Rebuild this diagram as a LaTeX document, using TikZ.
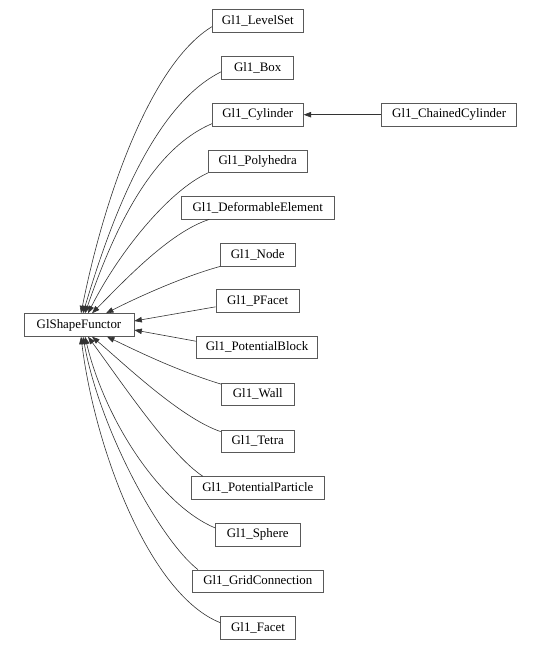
\documentclass[tikz,border=0pt]{standalone}
\usepackage{fontspec}
\setmainfont{Liberation Serif}
\usetikzlibrary{arrows.meta,calc}
\begin{document}
\begin{tikzpicture}[x=1pt,y=-1pt,
  cls/.style={draw=black!65,line width=0.7pt,fill=white,inner sep=0pt,minimum height=22.7pt,
    font=\fontsize{12.9}{14}\selectfont},
  edge/.style={draw=black!80,line width=0.6pt,-{Triangle[length=7.5pt,width=5.5pt]}}]
\useasboundingbox (0,0) rectangle (541,650);
\node[cls,minimum width=110pt] (gsf) at (79,325) {GlShapeFunctor};
\node[cls,minimum width=91pt] (ls) at (257.8,21.2) {Gl1\_LevelSet};
\node[cls,minimum width=72pt] (box) at (257.7,68) {Gl1\_Box};
\node[cls,minimum width=91pt] (cyl) at (257.8,114.7) {Gl1\_Cylinder};
\node[cls,minimum width=135pt] (ccyl) at (449.2,114.7) {Gl1\_ChainedCylinder};
\node[cls,minimum width=98.7pt] (poly) at (257.7,161.2) {Gl1\_Polyhedra};
\node[cls,minimum width=152.3pt] (def) at (257.8,207.7) {Gl1\_DeformableElement};
\node[cls,minimum width=74.3pt] (nod) at (257.8,254.7) {Gl1\_Node};
\node[cls,minimum width=83.3pt] (pf) at (257.7,300.8) {Gl1\_PFacet};
\node[cls,minimum width=120.6pt] (pb) at (257,347.3) {Gl1\_PotentialBlock};
\node[cls,minimum width=72.3pt] (wall) at (257.8,394.3) {Gl1\_Wall};
\node[cls,minimum width=73.3pt] (tet) at (257.7,441.3) {Gl1\_Tetra};
\node[cls,minimum width=132.3pt] (pp) at (257.8,488) {Gl1\_PotentialParticle};
\node[cls,minimum width=84.3pt] (sph) at (257.8,534.7) {Gl1\_Sphere};
\node[cls,minimum width=131pt] (grid) at (257.8,581.3) {Gl1\_GridConnection};
\node[cls,minimum width=74.6pt] (fac) at (258,628) {Gl1\_Facet};

\draw[edge] (ccyl.west) -- (cyl.east);

\draw[edge] ($(ls.west)+(0,5.5)$) .. controls (152,63) and (105,193) .. ($(gsf.north)+(2,0)$);
\draw[edge] ($(box.west)+(0,3.7)$) .. controls (152,106) and (110,223) .. ($(gsf.north)+(4,0)$);
\draw[edge] ($(cyl.south west)+(0,-2.7)$) .. controls (150,150) and (113,233) .. ($(gsf.north)+(6,0)$);
\draw[edge] (poly.south west) .. controls (170,190) and (120,250) .. ($(gsf.north)+(9,0)$);
\draw[edge] ($(def.south west)+(28,0)$) .. controls (170,232) and (125,280) .. ($(gsf.north)+(13,0)$);
\draw[edge] (nod.south west) .. controls (185,276) and (140,296) .. ($(gsf.north)+(27,0)$);
\draw[edge] ($(pf.west)+(0,6)$) -- ($(gsf.east)+(0,-4)$);
\draw[edge] ($(pb.west)+(0,-6)$) -- ($(gsf.east)+(0,5)$);
\draw[edge] ($(wall.north west)+(0,1.6)$) .. controls (175,370) and (135,350) .. ($(gsf.south)+(28,0)$);
\draw[edge] ($(tet.north west)+(0,2)$) .. controls (180,418) and (120,360) .. ($(gsf.south)+(13,0)$);
\draw[edge] ($(pp.north west)+(11.6,0)$) .. controls (170,455) and (120,380) .. ($(gsf.south)+(9,0)$);
\draw[edge] ($(sph.north west)+(0,5)$) .. controls (160,505) and (105,420) .. ($(gsf.south)+(6,0)$);
\draw[edge] ($(grid.north west)+(6,0)$) .. controls (160,540) and (100,430) .. ($(gsf.south)+(4,0)$);
\draw[edge] ($(fac.west)+(0,-5.3)$) .. controls (150,595) and (95,450) .. ($(gsf.south)+(2,0)$);
\end{tikzpicture}
\end{document}
